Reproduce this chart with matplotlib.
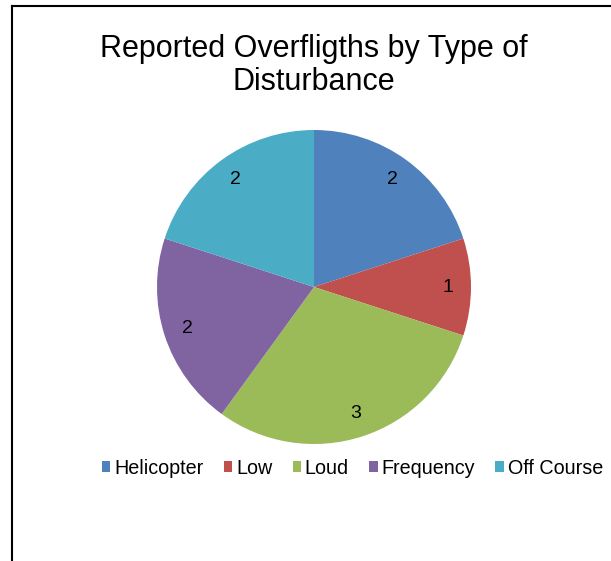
import matplotlib
matplotlib.use('Agg')
import matplotlib.pyplot as plt
from matplotlib.lines import Line2D

plt.rcParams['font.family'] = ['Liberation Sans', 'DejaVu Sans']

# data
categories = ['Helicopter', 'Low', 'Loud', 'Frequency', 'Off Course']
counts = [2, 1, 3, 2, 2]
colors = ['#4F81BD', '#C0504D', '#9BBB59', '#8064A2', '#4BACC6']

W, H = 611, 561
fig = plt.figure(figsize=(W / 100, H / 100), dpi=100)

# pie centre / radius in pixels
cx, cy, r = 314, 287, 157
ax = fig.add_axes([(cx - r) / W, (H - cy - r) / H, 2 * r / W, 2 * r / H])

wedges, texts = ax.pie(counts, colors=colors, startangle=90, counterclock=False,
                       labels=[str(c) for c in counts], labeldistance=0.85,
                       textprops={'fontsize': 14, 'color': 'black'},
                       wedgeprops={'linewidth': 0})
for t in texts:
    t.set_ha('center')
    t.set_va('center')
ax.set_xlim(-1, 1)
ax.set_ylim(-1, 1)
ax.set_aspect('equal')
ax.axis('off')

fig.text(cx / W, 1 - 49 / H, 'Reported Overfligths by Type of', ha='center',
         va='center', fontsize=22)
fig.text(cx / W, 1 - 82 / H, 'Disturbance', ha='center', va='center', fontsize=22)

leg = fig.legend(wedges, categories, loc='center left', bbox_to_anchor=(102 / W, 1 - 468 / H),
                 ncol=5, frameon=False, fontsize=14.2, handlelength=0.42,
                 handleheight=0.42, handletextpad=0.2, columnspacing=1.03,
                 borderaxespad=0, borderpad=0)

# chart frame (left and top edges visible)
fig.add_artist(Line2D([11.5 / W, 11.5 / W], [0, 1 - 6 / H], color='black', lw=1.5))
fig.add_artist(Line2D([11.5 / W, 1], [1 - 6 / H, 1 - 6 / H], color='black', lw=1.5))

fig.savefig('out.png', dpi=100)
